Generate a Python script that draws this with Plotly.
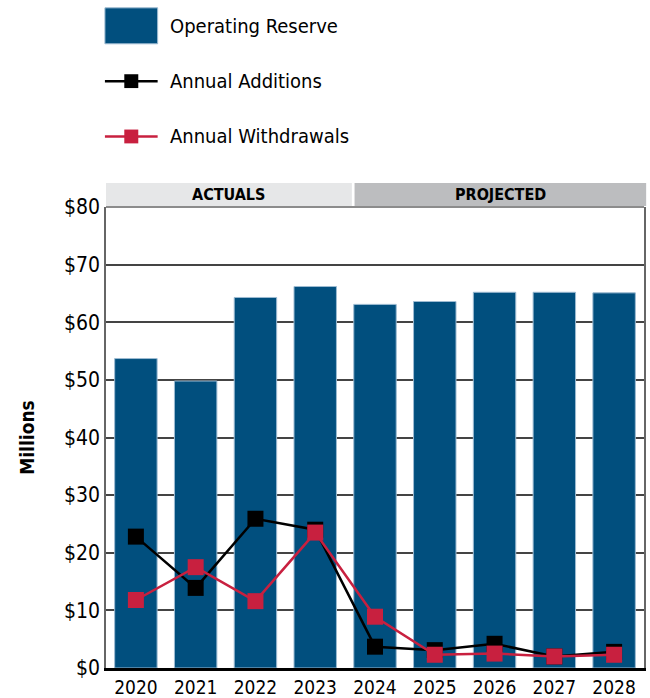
import plotly.graph_objects as go

years = ["2020", "2021", "2022", "2023", "2024", "2025", "2026", "2027", "2028"]
reserve = [53.7, 49.8, 64.3, 66.2, 63.1, 63.6, 65.2, 65.2, 65.1]
additions = [22.8, 13.9, 25.9, 24.0, 3.7, 3.1, 4.2, 2.0, 2.8]
withdrawals = [11.8, 17.5, 11.6, 23.5, 8.9, 2.3, 2.5, 2.0, 2.3]
yticks = [0, 10, 20, 30, 40, 50, 60, 70, 80]

FONT = "DejaVu Sans Condensed, Liberation Sans Narrow, Roboto, sans-serif"
BLUE = "#014f7e"
RED = "#c8203f"

fig = go.Figure()
fig.add_trace(go.Bar(x=years, y=reserve, name="Operating Reserve",
                     marker=dict(color=BLUE, line=dict(color="#9dbbd2", width=1))))
fig.add_trace(go.Scatter(x=years, y=additions, name="Annual Additions", mode="lines+markers",
                         line=dict(color="black", width=2.5),
                         marker=dict(symbol="square", size=16, color="black")))
fig.add_trace(go.Scatter(x=years, y=withdrawals, name="Annual Withdrawals", mode="lines+markers",
                         line=dict(color=RED, width=2.5),
                         marker=dict(symbol="square", size=16, color=RED)))

# custom legend
fig.add_shape(type="rect", xref="paper", yref="paper", x0=-0.002, x1=0.096, y0=1.354, y1=1.432,
              fillcolor=BLUE, line=dict(color="#9dbbd2", width=1))
for yl, col in [(1.273, "black"), (1.153, RED)]:
    fig.add_shape(type="line", xref="paper", yref="paper", x0=-0.002, x1=0.096, y0=yl, y1=yl,
                  line=dict(color=col, width=2.5))
    fig.add_shape(type="rect", xref="paper", yref="paper", x0=0.034, x1=0.060,
                  y0=yl - 0.015, y1=yl + 0.015, fillcolor=col, line=dict(width=0))
for yl, txt in [(1.393, "Operating Reserve"), (1.273, "Annual Additions"), (1.153, "Annual Withdrawals")]:
    fig.add_annotation(xref="paper", yref="paper", x=0.115, y=yl, text=txt, showarrow=False,
                       xanchor="left", yanchor="middle", font=dict(family=FONT, size=20, color="black"))

# header bands
fig.add_shape(type="rect", xref="paper", yref="paper", x0=0.0, x1=0.457, y0=1.002, y1=1.052,
              fillcolor="#e6e7e8", line=dict(width=0))
fig.add_shape(type="rect", xref="paper", yref="paper", x0=0.462, x1=1.004, y0=1.002, y1=1.052,
              fillcolor="#bcbdbf", line=dict(width=0))
fig.add_annotation(xref="paper", yref="paper", x=0.228, y=1.027, text="<b>ACTUALS</b>", showarrow=False,
                   xanchor="center", yanchor="middle", font=dict(family=FONT, size=16, color="black"))
fig.add_annotation(xref="paper", yref="paper", x=0.733, y=1.027, text="<b>PROJECTED</b>", showarrow=False,
                   xanchor="center", yanchor="middle", font=dict(family=FONT, size=16, color="black"))
fig.add_shape(type="line", xref="paper", yref="paper", x0=0, x1=1, y0=1, y1=1,
              line=dict(color="#666666", width=1.5))

fig.update_layout(
    width=650, height=698,
    margin=dict(l=106, r=6, t=207, b=30, autoexpand=False),
    plot_bgcolor="white", paper_bgcolor="white",
    showlegend=False,
    bargap=0.29,
    font=dict(family=FONT, color="black"),
)
fig.update_xaxes(range=[-0.5, len(years) - 0.5], showline=True, linecolor="black", linewidth=2.5,
                 ticks="", automargin=False,
                 tickfont=dict(family=FONT, size=19, color="black"), showgrid=False)
fig.update_yaxes(range=[0, 80], tickvals=yticks, ticktext=["$" + str(v) for v in yticks],
                 showline=True, linecolor="#666666", linewidth=1.5, mirror=True, automargin=False,
                 showgrid=True, gridcolor="#444444", gridwidth=1.5, zeroline=False,
                 tickfont=dict(family=FONT, size=21, color="black"),
                 title=dict(text="<b>Millions</b>", font=dict(family=FONT, size=19, color="black"), standoff=24))

# page body has a default 8px margin; drop it so the figure sits at the top-left corner
fig.write_html("out.html", config={"displayModeBar": False},
               post_script="document.body.style.margin='0';")
